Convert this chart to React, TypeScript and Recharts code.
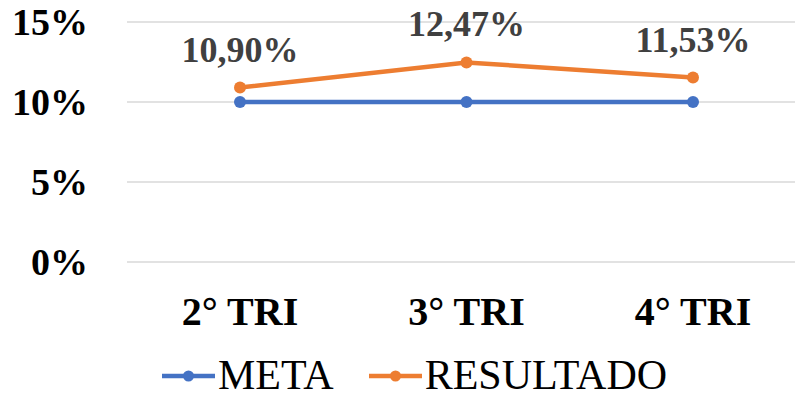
import { CartesianGrid, LabelList, Legend, Line, LineChart, XAxis, YAxis } from "recharts"

const quarters = ["2° TRI", "3° TRI", "4° TRI"]
const meta = [10, 10, 10]
const resultado = [10.9, 12.47, 11.53]
const yTicks = [0, 5, 10, 15]

const BLUE = "#4472C4"
const ORANGE = "#ED7D31"
const SERIF = '"Liberation Serif", "Times New Roman", serif'

const data = quarters.map((q, i) => ({ q, meta: meta[i], resultado: resultado[i] }))

const fmtPct = (v: number) => `${v.toFixed(2).replace(".", ",")}%`

function LegendItem({ color, label }: { color: string; label: string }) {
  return (
    <div style={{ display: "flex", alignItems: "center", gap: 3 }}>
      <svg width={53} height={14}>
        <line x1={0} y1={7} x2={53} y2={7} stroke={color} strokeWidth={4.5} strokeLinecap="round" />
        <circle cx={26.5} cy={7} r={5.5} fill={color} />
      </svg>
      <span style={{ fontFamily: SERIF, fontSize: 42, color: "#000", lineHeight: 0.95, whiteSpace: "nowrap" }}>
        {label}
      </span>
    </div>
  )
}

function ChartLegend() {
  return (
    <div
      style={{
        display: "flex",
        alignItems: "center",
        boxSizing: "border-box",
        height: 56,
        paddingTop: 16,
        paddingLeft: 162,
        gap: 35,
      }}
    >
      <LegendItem color={BLUE} label="META" />
      <LegendItem color={ORANGE} label="RESULTADO" />
    </div>
  )
}

export default function App() {
  return (
    <div style={{ position: "fixed", left: 0, top: 0, width: 795, height: 400, overflow: "hidden", background: "#fff" }}>
      <LineChart width={815} height={400} data={data} margin={{ top: 22, right: 9, bottom: 0, left: 0 }}>
        <CartesianGrid vertical={false} stroke="#d9d9d9" strokeWidth={1.5} />
        <XAxis
          dataKey="q"
          axisLine={false}
          tickLine={false}
          tickSize={0}
          tickMargin={35}
          height={82}
          padding={{ left: 113, right: 113 }}
          tick={{ fontFamily: SERIF, fontSize: 40, fontWeight: "bold", fill: "#000" }}
        />
        <YAxis
          domain={[0, 15]}
          ticks={yTicks}
          width={127}
          axisLine={false}
          tickLine={false}
          tickSize={0}
          tickMargin={39}
          tickFormatter={(v) => `${v}%`}
          tick={{ fontFamily: SERIF, fontSize: 38, fontWeight: "bold", fill: "#000" }}
        />
        <Legend
          verticalAlign="bottom"
          height={56}
          content={() => <ChartLegend />}
          wrapperStyle={{ left: 0, top: 340, width: 795, height: 56 }}
        />
        <Line
          dataKey="meta"
          name="META"
          stroke={BLUE}
          strokeWidth={4.5}
          dot={{ r: 6, fill: BLUE, stroke: BLUE, strokeWidth: 0 }}
          isAnimationActive={false}
        />
        <Line
          dataKey="resultado"
          name="RESULTADO"
          stroke={ORANGE}
          strokeWidth={4.5}
          dot={{ r: 6, fill: ORANGE, stroke: ORANGE, strokeWidth: 0 }}
          isAnimationActive={false}
        >
          <LabelList
            dataKey="resultado"
            position="top"
            offset={26}
            formatter={(v: number) => fmtPct(v)}
            style={{ fontFamily: SERIF, fontSize: 36, fontWeight: "bold", fill: "#404040" }}
          />
        </Line>
      </LineChart>
    </div>
  )
}
